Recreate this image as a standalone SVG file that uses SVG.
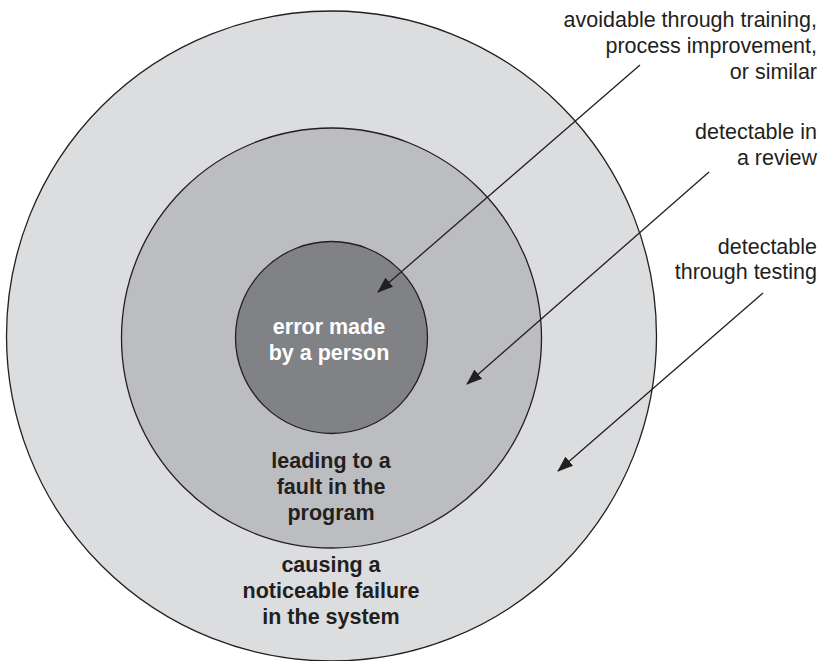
<svg xmlns="http://www.w3.org/2000/svg" width="820" height="661" viewBox="0 0 820 661">
  <style>
    .ring { stroke: #231f20; stroke-width: 1.3; }
    .outer { fill: #dcdddf; }
    .middle { fill: #bcbdc0; }
    .inner { fill: #808285; }
    .lbl { font-family: "Liberation Sans", Arial, sans-serif; font-size: 21.5px; }
    .bold { font-weight: bold; text-anchor: middle; fill: #231f20; }
    .white { fill: #ffffff; }
    .note { text-anchor: end; fill: #231f20; }
    .arrow { stroke: #231f20; stroke-width: 1.3; fill: none; marker-end: url(#head); }
  </style>
  <defs>
    <marker id="head" viewBox="0 0 16 12" refX="15" refY="6" markerWidth="16" markerHeight="12" markerUnits="userSpaceOnUse" orient="auto">
      <path d="M0,0 L16,6 L0,12 Z" fill="#231f20"/>
    </marker>
  </defs>

  <!-- outermost ring: failures in the system -->
  <g id="failure">
    <circle class="ring outer" cx="331.5" cy="336" r="325"/>
    <text class="lbl bold" x="331" y="572">causing a</text>
    <text class="lbl bold" x="331" y="598">noticeable failure</text>
    <text class="lbl bold" x="331" y="624">in the system</text>
  </g>

  <!-- middle ring: faults in the program -->
  <g id="fault">
    <circle class="ring middle" cx="331.5" cy="338" r="210"/>
    <text class="lbl bold" x="331" y="468">leading to a</text>
    <text class="lbl bold" x="331" y="494">fault in the</text>
    <text class="lbl bold" x="331" y="520">program</text>
  </g>

  <!-- core: the human error -->
  <g id="error">
    <circle class="ring inner" cx="331.5" cy="337.5" r="96"/>
    <text class="lbl bold white" x="329" y="334">error made</text>
    <text class="lbl bold white" x="329" y="360">by a person</text>
  </g>

  <!-- side annotations -->
  <g id="note-avoidable">
    <text class="lbl note" x="817" y="27">avoidable through training,</text>
    <text class="lbl note" x="817" y="53">process improvement,</text>
    <text class="lbl note" x="817" y="79">or similar</text>
  </g>
  <g id="note-review">
    <text class="lbl note" x="817" y="139">detectable in</text>
    <text class="lbl note" x="817" y="165">a review</text>
  </g>
  <g id="note-testing">
    <text class="lbl note" x="817" y="254">detectable</text>
    <text class="lbl note" x="817" y="279">through testing</text>
  </g>

  <!-- pointers from annotations into the rings -->
  <g id="connectors">
    <line class="arrow" x1="640" y1="65" x2="378" y2="292"/>
    <line class="arrow" x1="709" y1="172" x2="467" y2="384"/>
    <line class="arrow" x1="763" y1="293" x2="558" y2="471"/>
  </g>
</svg>
